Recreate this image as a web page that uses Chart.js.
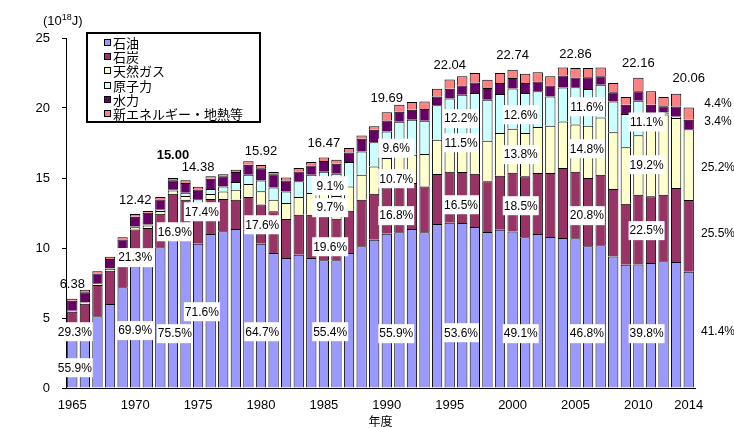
<!DOCTYPE html>
<html>
<head>
<meta charset="utf-8">
<script src="https://cdn.jsdelivr.net/npm/chart.js@4.4.0/dist/chart.umd.min.js"></script>
<style>
  html, body { margin: 0; padding: 0; background: #fff; }
  #wrap { width: 734px; height: 428px; position: relative; }
</style>
</head>
<body>
<div id="wrap"><canvas id="energyChart"></canvas></div>
<script>
// fiscal years
var years = [1965,1966,1967,1968,1969,1970,1971,1972,1973,1974,
             1975,1976,1977,1978,1979,1980,1981,1982,1983,1984,
             1985,1986,1987,1988,1989,1990,1991,1992,1993,1994,
             1995,1996,1997,1998,1999,2000,2001,2002,2003,2004,
             2005,2006,2007,2008,2009,2010,2011,2012,2013,2014];

// primary energy supply, 10^18 J
var oil     = [3.57,4.15,5.12,6.00,7.19,8.68,9.05,10.05,11.33,10.80,
               10.30,11.00,11.19,11.36,11.31,10.30,9.64,9.29,9.52,9.29,
               9.12,9.12,9.64,10.12,10.59,11.01,11.12,11.35,11.12,11.71,
               11.81,11.78,11.50,11.14,11.31,11.17,10.76,11.00,10.78,10.71,
               10.70,10.12,10.19,9.40,8.81,8.82,8.93,9.05,9.00,8.30];
var coal    = [1.87,1.87,2.23,2.38,2.60,2.65,2.38,2.40,2.54,2.65,
               2.50,2.50,2.31,2.09,2.33,2.80,2.98,2.78,2.86,3.09,
               3.23,2.97,3.02,3.33,3.29,3.31,3.40,3.29,3.28,3.57,
               3.64,3.64,3.80,3.62,3.85,4.21,4.36,4.36,4.58,5.00,
               4.75,4.88,5.05,4.81,4.35,4.99,4.76,4.75,5.29,5.12];
var gas     = [0.08,0.09,0.14,0.14,0.15,0.15,0.17,0.20,0.23,0.26,
               0.36,0.36,0.54,0.71,0.93,0.95,0.83,1.14,1.26,1.55,
               1.60,1.62,1.74,1.78,1.95,2.11,2.20,2.02,2.31,2.46,
               2.53,2.72,2.84,2.90,3.05,3.14,3.09,3.28,3.37,3.33,
               3.38,3.73,4.09,4.05,4.03,4.25,5.05,5.73,4.99,5.06];
var nuclear = [0,0.01,0.01,0.01,0.02,0.05,0.08,0.08,0.10,0.24,
               0.33,0.35,0.36,0.55,0.67,0.78,0.88,0.83,1.12,1.31,
               1.50,1.60,1.74,1.67,1.73,1.89,2.30,2.50,2.38,2.45,
               2.69,2.81,2.93,2.93,2.79,2.87,2.86,2.55,2.10,2.43,
               2.65,2.63,2.33,2.21,2.38,2.46,0.90,0.15,0.12,0];
var hydro   = [0.71,0.72,0.67,0.69,0.64,0.71,0.83,0.74,0.64,0.70,
               0.69,0.74,0.72,0.71,0.71,0.87,0.93,0.79,0.71,0.66,
               0.77,0.71,0.69,0.90,0.89,0.78,0.71,0.72,0.84,0.64,
               0.71,0.66,0.76,0.84,0.78,0.76,0.71,0.71,0.78,0.86,
               0.70,0.83,0.60,0.65,0.67,0.68,0.59,0.45,0.71,0.68];
var newEnergy = [0.15,0.17,0.17,0.15,0.16,0.18,0.13,0.17,0.16,0.19,
               0.20,0.17,0.14,0.17,0.24,0.22,0.17,0.21,0.24,0.24,
               0.25,0.29,0.31,0.24,0.24,0.59,0.50,0.55,0.54,0.55,
               0.66,0.65,0.67,0.59,0.72,0.59,0.67,0.65,0.65,0.57,
               0.68,0.67,0.64,0.66,0.54,0.96,0.96,0.65,0.91,0.88];

var seriesNames = ['石油', '石炭', '天然ガス', '原子力', '水力', '新エネルギー・地熱等'];

// totals written above some bars
var totalYears = [1965, 1970, 1973, 1975, 1980, 1985, 1990, 1995, 2000, 2005, 2010, 2014];
var totalTexts = ['6.38', '12.42', '15.00', '14.38', '15.92', '16.47', '19.69', '22.04', '22.74', '22.86', '22.16', '20.06'];

// share labels (%)
var shareYears   = [1965, 1970, 1973, 1975, 1980, 1985, 1990, 1995, 2000, 2005, 2010];
var oilShare     = ['55.9', '69.9', '75.5', '71.6', '64.7', '55.4', '55.9', '53.6', '49.1', '46.8', '39.8'];
var coalShare    = ['29.3', '21.3', '16.9', '17.4', '17.6', '19.6', '16.8', '16.5', '18.5', '20.8', '22.5'];
var gasShare     = [null, null, null, null, null, '9.7', '10.7', '11.5', '13.8', '14.8', '19.2'];
var nuclearShare = [null, null, null, null, null, '9.1', '9.6', '12.2', '12.6', '11.6', '11.1'];
// 2014 shares, shown right of the last bar: oil, coal, gas, hydro, new
var lastShare    = ['41.4', '25.5', '25.2', '3.4', '4.4'];

// label placement (kept apart from the data)
var shareShift = [0.2, 0, 0.15, 0.3, 0.1, 0.5, 0.75, 0.9, 0.65, 0.9, 0.65];
var oilAt      = [1.45, 4.1, 3.88, 5.45, 4.02, 4.02, 3.88, 3.95, 3.88, 3.88, 3.88];
var coalAt     = [4.02, 9.31, 11.16, 12.59, 11.66, 10.09, 12.31, 13.09, 13.02, 12.31, 11.24];
var gasAt      = [null, null, null, null, null, 12.88, 14.95, 17.52, 16.67, 17.09, 15.95];
var nuclearAt  = [null, null, null, null, null, 14.45, 17.13, 19.24, 19.52, 20.09, 19.0];
var lastAt     = [4.02, 11.02, 15.74, 19.02, 20.31];
var totalLift  = {1973: 9, 1975: 5, 2014: 15};

var numFont = '"Liberation Sans", Arial, sans-serif';
var pctFont = '12px "Liberation Sans Narrow", "Liberation Sans", sans-serif';
var jpFont = '"Noto Sans CJK JP", sans-serif';

var labelPlugin = {
  id: 'valueLabels',
  afterDatasetsDraw: function(chart) {
    var ctx = chart.ctx, xs = chart.scales.x, ys = chart.scales.y;
    var step = xs.getPixelForValue(1) - xs.getPixelForValue(0);
    ctx.save();
    ctx.textAlign = 'center';
    ctx.textBaseline = 'middle';

    // totals
    totalYears.forEach(function(yr, i) {
      var idx = years.indexOf(yr);
      var top = 0;
      chart.data.datasets.forEach(function(ds) { top += ds.data[idx]; });
      var py = ys.getPixelForValue(top) - 14 - (totalLift[yr] || 0);
      ctx.font = (yr === 1973 ? 'bold ' : '') + '13px ' + numFont;
      ctx.fillStyle = '#000';
      ctx.fillText(totalTexts[i], xs.getPixelForValue(idx), py);
    });

    // boxed shares
    function boxed(text, px, py) {
      ctx.font = pctFont;
      ctx.fillStyle = '#fff';
      ctx.fillRect(px - 18, py - 9.5, 36, 19);
      ctx.fillStyle = '#000';
      ctx.fillText(text + '%', px, py + 0.5);
    }
    shareYears.forEach(function(yr, i) {
      var px = xs.getPixelForValue(years.indexOf(yr)) + shareShift[i] * step;
      [[oilShare, oilAt], [coalShare, coalAt], [gasShare, gasAt], [nuclearShare, nuclearAt]].forEach(function(p) {
        if (p[0][i] !== null) boxed(p[0][i], px, ys.getPixelForValue(p[1][i]));
      });
    });

    // 2014 shares at the right edge
    ctx.font = pctFont;
    ctx.fillStyle = '#000';
    lastShare.forEach(function(t, i) {
      ctx.fillText(t + '%', chart.chartArea.right + 23, ys.getPixelForValue(lastAt[i]));
    });
    ctx.restore();
  },
  afterDraw: function(chart) {
    var ctx = chart.ctx;
    ctx.save();
    // unit
    ctx.fillStyle = '#000';
    ctx.textBaseline = 'alphabetic';
    ctx.textAlign = 'left';
    ctx.font = '13px ' + numFont;
    var ux = 43, uy = 25;
    ctx.fillText('(10', ux, uy);
    ux += ctx.measureText('(10').width;
    ctx.font = '9px ' + numFont;
    ctx.fillText('18', ux, uy - 5);
    ux += ctx.measureText('18').width;
    ctx.font = '13px ' + numFont;
    ctx.fillText('J)', ux, uy);

    // legend box
    ctx.fillStyle = '#fff';
    ctx.fillRect(87, 33, 173, 89);
    ctx.strokeStyle = '#000';
    ctx.lineWidth = 2;
    ctx.strokeRect(87, 33, 173, 89);
    ctx.lineWidth = 1;
    ctx.textBaseline = 'middle';
    chart.data.datasets.forEach(function(ds, i) {
      var cy = Math.round(42 + i * 14.2);
      ctx.fillStyle = ds.backgroundColor;
      ctx.fillRect(104, cy - 3, 7, 7);
      ctx.strokeRect(104.5, cy - 2.5, 6, 6);
      ctx.fillStyle = '#000';
      ctx.font = '13px ' + jpFont;
      ctx.fillText(ds.label, 113, cy + 1);
    });
    ctx.restore();
  }
};

var colors = ['#9999FF', '#993366', '#FFFFCC', '#CCFFFF', '#660066', '#FF8080'];
var values = [oil, coal, gas, nuclear, hydro, newEnergy];

var config = {
  type: 'bar',
  data: {
    labels: years,
    datasets: values.map(function(v, i) {
      return {
        label: seriesNames[i],
        data: v,
        backgroundColor: colors[i],
        borderColor: '#000',
        borderWidth: 1,
        borderSkipped: 'start',
        barPercentage: 0.82,
        categoryPercentage: 1.0
      };
    })
  },
  options: {
    responsive: true,
    maintainAspectRatio: false,
    animation: false,
    layout: { padding: { top: 38, right: 39, bottom: 0, left: 0 } },
    plugins: { legend: { display: false }, tooltip: { enabled: false } },
    scales: {
      x: {
        stacked: true,
        grid: { display: false, drawTicks: false },
        border: { display: true, color: '#000', width: 1 },
        ticks: {
          color: '#000',
          font: { family: numFont, size: 13 },
          padding: 10,
          autoSkip: false,
          maxRotation: 0,
          callback: function(val, i) {
            var yr = years[i];
            return (yr % 5 === 0 || yr === 2014) ? String(yr) : '';
          }
        },
        title: { display: true, text: '年度', color: '#000', font: { family: jpFont, size: 12 }, padding: { top: 0, bottom: -1 } },
        afterFit: function(s) { s.height = 40; }
      },
      y: {
        stacked: true,
        min: 0,
        max: 25,
        grid: { drawOnChartArea: false, drawTicks: true, tickLength: 4, color: '#000' },
        border: { display: true, color: '#000', width: 1 },
        ticks: { stepSize: 5, color: '#000', font: { family: numFont, size: 13 }, padding: 12 },
        afterFit: function(s) { s.width = 66; }
      }
    }
  },
  plugins: [labelPlugin]
};

new Chart(document.getElementById('energyChart'), config);
</script>
</body>
</html>
